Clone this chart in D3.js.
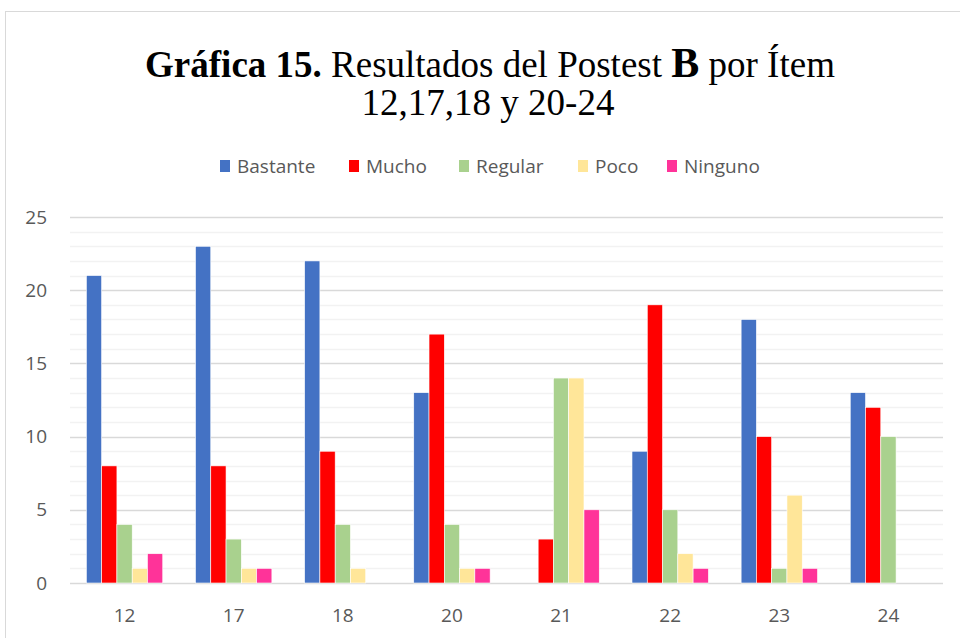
<!DOCTYPE html>
<html>
<head>
<meta charset="utf-8">
<script src="https://cdn.jsdelivr.net/npm/d3@7"></script>
<style>
  body { margin: 0; background: #fff; }
  svg { display: block; }
</style>
</head>
<body>
<div id="container"></div>
<script>
var items = ['12', '17', '18', '20', '21', '22', '23', '24'];
var seriesNames = ['Bastante', 'Mucho', 'Regular', 'Poco', 'Ninguno'];
var colors = ['#4472C4', '#FF0000', '#A9D18E', '#FFE699', '#FF3399'];
var bastante = [21, 23, 22, 13, 0, 9, 18, 13];
var mucho = [8, 8, 9, 17, 3, 19, 10, 12];
var regular = [4, 3, 4, 4, 14, 5, 1, 10];
var poco = [1, 1, 1, 1, 14, 2, 6, 0];
var ninguno = [2, 1, 0, 1, 5, 1, 1, 0];
var yTicks = [0, 5, 10, 15, 20, 25];

var values = [bastante, mucho, regular, poco, ninguno];
var width = 960, height = 638;
var plotLeft = 70, plotRight = 943, plotTop = 217, plotBottom = 583;

var svg = d3.select('#container')
      .append('svg')
      .attr('width', width)
      .attr('height', height);

// frame
svg.append('rect')
  .attr('x', 5.5).attr('y', 11.5)
  .attr('width', 1000).attr('height', 700)
  .style('fill', 'none')
  .style('stroke', '#d9d9d9');

var x = d3.scaleBand().domain(items).range([plotLeft, plotRight]).paddingInner(0.3).paddingOuter(0.15);
var xs = d3.scaleBand().domain(seriesNames).range([0, x.bandwidth()]);
var y = d3.scaleLinear().domain([0, 25]).range([plotBottom, plotTop]);

// minor grid
svg.append('g').selectAll('line')
  .data(d3.range(1, 25).filter(function(d) { return d % 5 !== 0; }))
  .enter().append('line')
  .attr('x1', plotLeft).attr('x2', plotRight)
  .attr('y1', function(d) { return Math.round(y(d)) + 0.5; })
  .attr('y2', function(d) { return Math.round(y(d)) + 0.5; })
  .style('stroke', '#f2f2f2').style('stroke-width', 1.5);

// major grid
svg.append('g').selectAll('line')
  .data(yTicks)
  .enter().append('line')
  .attr('x1', plotLeft).attr('x2', plotRight)
  .attr('y1', function(d) { return Math.round(y(d)) + 0.5; })
  .attr('y2', function(d) { return Math.round(y(d)) + 0.5; })
  .style('stroke', '#d9d9d9').style('stroke-width', 1.5);

// bars
values.forEach(function(vals, si) {
  var barData = vals.map(function(v, i) { return {item: items[i], v: v}; })
    .filter(function(d) { return d.v > 0; });
  svg.append('g').selectAll('rect')
    .data(barData)
    .enter().append('rect')
    .attr('x', function(d) { return x(d.item) + xs(seriesNames[si]); })
    .attr('y', function(d) { return y(d.v); })
    .attr('width', xs.bandwidth())
    .attr('height', function(d) { return y(0) - y(d.v); })
    .style('fill', colors[si])
    .style('stroke', '#fff')
    .style('stroke-width', 0.6);
});

// y labels
svg.append('g').selectAll('text')
  .data(yTicks)
  .enter().append('text')
  .attr('x', 47)
  .attr('y', function(d) { return y(d); })
  .attr('dy', '0.35em')
  .attr('text-anchor', 'end')
  .style('font-family', 'Open Sans, sans-serif')
  .style('font-size', '19px')
  .style('fill', '#595959')
  .text(function(d) { return d; });

// x labels
svg.append('g').selectAll('text')
  .data(items)
  .enter().append('text')
  .attr('x', function(d) { return x(d) + x.bandwidth() / 2; })
  .attr('y', 615)
  .attr('dy', '0.35em')
  .attr('text-anchor', 'middle')
  .style('font-family', 'Open Sans, sans-serif')
  .style('font-size', '19px')
  .style('fill', '#595959')
  .text(function(d) { return d; });

// title
var t1 = svg.append('text')
  .attr('x', 490).attr('y', 77)
  .attr('text-anchor', 'middle')
  .style('font-family', 'Liberation Serif, Times New Roman, serif')
  .style('font-size', '37px')
  .style('fill', '#000');
t1.append('tspan').style('font-weight', 'bold').text('Gráfica 15.');
t1.append('tspan').text(' Resultados del Postest ');
t1.append('tspan').style('font-weight', 'bold').style('font-size', '42px').text('B');
t1.append('tspan').text(' por Ítem');

svg.append('text')
  .attr('x', 488).attr('y', 115)
  .attr('text-anchor', 'middle')
  .style('font-family', 'Liberation Serif, Times New Roman, serif')
  .style('font-size', '37px')
  .style('fill', '#000')
  .text('12,17,18 y 20-24');

// legend
var legendX = [220, 349, 459, 578, 667];
var legend = svg.append('g').selectAll('g')
  .data(seriesNames)
  .enter().append('g')
  .attr('transform', function(d, i) { return 'translate(' + legendX[i] + ',166)'; });
legend.append('rect')
  .attr('x', 0).attr('y', -6)
  .attr('width', 10).attr('height', 12)
  .style('fill', function(d, i) { return colors[i]; });
legend.append('text')
  .attr('x', 17).attr('y', 0)
  .attr('dy', '0.35em')
  .style('font-family', 'Open Sans, sans-serif')
  .style('font-size', '19px')
  .style('fill', '#595959')
  .text(function(d) { return d; });
</script>
</body>
</html>
